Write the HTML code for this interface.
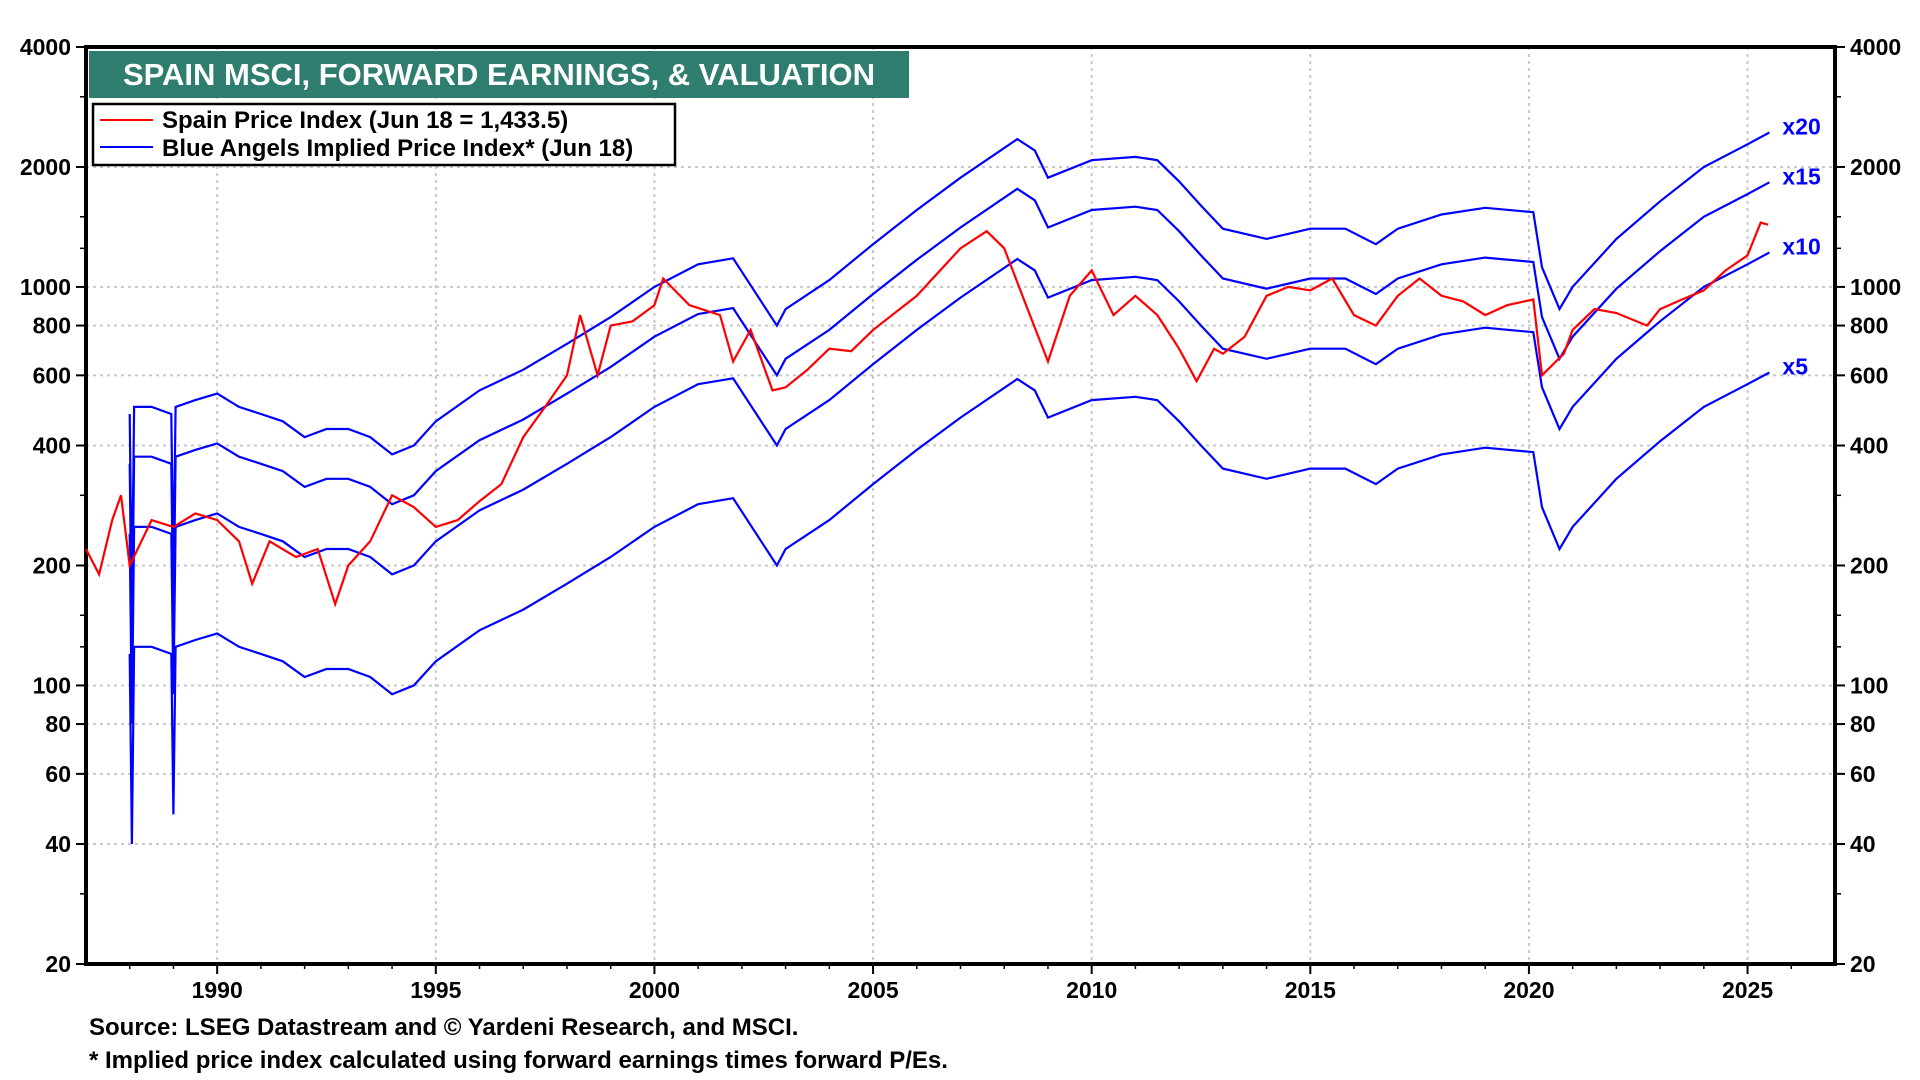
<!DOCTYPE html>
<html><head><meta charset="utf-8">
<style>
html,body{margin:0;padding:0;background:#fff;}
svg{display:block;font-family:"Liberation Sans",Arial,sans-serif;}
</style></head>
<body>
<svg id="chart" width="1920" height="1080" viewBox="0 0 1920 1080" xmlns="http://www.w3.org/2000/svg">
<rect width="1920" height="1080" fill="#fff"/>
<g id="grid"></g>
<g id="axes"></g>
<g id="series"></g>
<rect x="89" y="51" width="820" height="47" fill="#2e7d6f"/>
<text x="499" y="85" fill="#fff" font-size="31" font-weight="bold" text-anchor="middle">SPAIN MSCI, FORWARD EARNINGS, &amp; VALUATION</text>
<g>
<rect x="93" y="104" width="582" height="61" fill="#fff" stroke="#000" stroke-width="2.5"/>
<line x1="100" y1="120" x2="153" y2="120" stroke="#ff0000" stroke-width="2"/>
<text x="162" y="128" font-size="24" font-weight="bold">Spain Price Index (Jun 18 = 1,433.5)</text>
<line x1="100" y1="147" x2="153" y2="147" stroke="#0000ff" stroke-width="2"/>
<text x="162" y="156" font-size="24" font-weight="bold">Blue Angels Implied Price Index* (Jun 18)</text>
</g>
<text x="89" y="1035" font-size="24" font-weight="bold">Source: LSEG Datastream and © Yardeni Research, and MSCI.</text>
<text x="89" y="1068" font-size="24" font-weight="bold">* Implied price index calculated using forward earnings times forward P/Es.</text>
</svg>
<script>
const yearTicks = [1990,1995,2000,2005,2010,2015,2020,2025];
const yTickLabels = [4000,2000,1000,800,600,400,200,100,80,60,40,20];
const multiples = [5,10,15,20];
const multipleLabels = ["x5","x10","x15","x20"];
const priceDates = [1987.0,1987.3,1987.6,1987.8,1988.0,1988.5,1989.0,1989.5,1990.0,1990.5,1990.8,1991.2,1991.8,1992.3,1992.7,1993.0,1993.5,1994.0,1994.5,1995.0,1995.5,1996.0,1996.5,1997.0,1997.5,1998.0,1998.3,1998.7,1999.0,1999.5,2000.0,2000.2,2000.8,2001.5,2001.8,2002.2,2002.7,2003.0,2003.5,2004.0,2004.5,2005.0,2006.0,2007.0,2007.6,2008.0,2008.5,2009.0,2009.5,2010.0,2010.5,2011.0,2011.5,2012.0,2012.4,2012.8,2013.0,2013.5,2014.0,2014.5,2015.0,2015.5,2016.0,2016.5,2017.0,2017.5,2018.0,2018.5,2019.0,2019.5,2020.1,2020.3,2020.8,2021.0,2021.5,2022.0,2022.7,2023.0,2023.5,2024.0,2024.5,2025.0,2025.3,2025.47];
const priceValues = [220,190,260,300,200,260,250,270,260,230,180,230,210,220,160,200,230,300,280,250,260,290,320,420,500,600,850,600,800,820,900,1050,900,850,650,780,550,560,620,700,690,780,950,1250,1380,1250,900,650,950,1100,850,950,850,700,580,700,680,750,950,1000,980,1050,850,800,950,1050,950,920,850,900,930,600,680,780,880,860,800,880,930,980,1100,1200,1450,1433];
const earnDates = [1988.0,1988.05,1988.1,1988.5,1988.95,1989.0,1989.05,1989.5,1990.0,1990.5,1991.0,1991.5,1992.0,1992.5,1993.0,1993.5,1994.0,1994.5,1995.0,1996.0,1997.0,1998.0,1999.0,2000.0,2001.0,2001.8,2002.8,2003.0,2004.0,2005.0,2006.0,2007.0,2008.3,2008.7,2009.0,2010.0,2011.0,2011.5,2012.0,2012.5,2013.0,2014.0,2015.0,2015.8,2016.5,2017.0,2018.0,2019.0,2020.1,2020.3,2020.7,2021.0,2022.0,2023.0,2024.0,2025.0,2025.5];
const earnX10 = [240,80,250,250,240,95,250,260,270,250,240,230,210,220,220,210,190,200,230,275,310,360,420,500,570,590,400,440,520,640,780,940,1175,1100,940,1040,1060,1040,920,800,700,660,700,700,640,700,760,790,770,560,440,500,660,820,1000,1140,1220];

const X0=86,X1=1835,Y0=47,Y1=964,XMIN=1987,XMAX=2027;
const xS=t=>X0+(t-XMIN)/(XMAX-XMIN)*(X1-X0);
const yS=v=>Y0+(Math.log2(4000)-Math.log2(v))*((Y1-Y0)/Math.log2(200));
const NS="http://www.w3.org/2000/svg";
function mk(tag,attrs,parent){const e=document.createElementNS(NS,tag);for(const k in attrs)e.setAttribute(k,attrs[k]);parent.appendChild(e);return e;}
const grid=document.getElementById('grid'),axes=document.getElementById('axes'),series=document.getElementById('series');

yTickLabels.forEach(v=>{
  const y=yS(v);
  if(v!==4000&&v!==20){const g=mk('line',{x1:X0,x2:X1,y1:y,y2:y,stroke:'#c8c8c8','stroke-width':2,'stroke-dasharray':'3,4'},grid);
  
  }
  const l=mk('text',{x:X0-15,y:y+8,'font-size':23,'font-weight':'bold','text-anchor':'end'},axes);l.textContent=v;
  
  
  const r=mk('text',{x:X1+15,y:y+8,'font-size':23,'font-weight':'bold'},axes);r.textContent=v;
  
  
  mk('line',{x1:X0-10,x2:X0,y1:y,y2:y,stroke:'#000','stroke-width':2},axes);
  mk('line',{x1:X1,x2:X1+10,y1:y,y2:y,stroke:'#000','stroke-width':2},axes);
});
[3000,1500,1250,300,150,125,30].forEach(v=>{
  const y=yS(v);
  mk('line',{x1:X0-6,x2:X0,y1:y,y2:y,stroke:'#000','stroke-width':1.5},axes);
  mk('line',{x1:X1,x2:X1+6,y1:y,y2:y,stroke:'#000','stroke-width':1.5},axes);
});
yearTicks.forEach(t=>{
  const x=xS(t);
  const g=mk('line',{x1:x,x2:x,y1:Y0,y2:Y1,stroke:'#c8c8c8','stroke-width':2,'stroke-dasharray':'3,4'},grid);
  
  
  const l=mk('text',{x:x,y:Y1+34,'font-size':23,'font-weight':'bold','text-anchor':'middle'},axes);l.textContent=t;
  
  
  mk('line',{x1:x,x2:x,y1:Y1,y2:Y1+10,stroke:'#000','stroke-width':2},axes);
});
for(let t=1988;t<=2026;t++){const x=xS(t);mk('line',{x1:x,x2:x,y1:Y1,y2:Y1+5,stroke:'#000','stroke-width':1.5},axes);}
const frame=mk('rect',{x:X0,y:Y0,width:X1-X0,height:Y1-Y0,fill:'none',stroke:'#000','stroke-width':4},axes);



multiples.forEach((m,i)=>{
  let d='';
  earnDates.forEach((t,j)=>{d+=(j?'L':'M')+xS(t).toFixed(1)+','+yS(earnX10[j]*m/10).toFixed(1);});
  const p=mk('path',{d:d,fill:'none',stroke:'#0000ff','stroke-width':2.2},series);
  
  
  const last=earnX10.length-1;
  const lb=mk('text',{x:xS(earnDates[last])+13,y:yS(earnX10[last]*m/10)+2,fill:'#0000ff','font-size':23,'font-weight':'bold'},series);
  lb.textContent=multipleLabels[i];
  
  
});
let pd='';
priceDates.forEach((t,j)=>{pd+=(j?'L':'M')+xS(t).toFixed(1)+','+yS(priceValues[j]).toFixed(1);});
const pp=mk('path',{d:pd,fill:'none',stroke:'#ff0000','stroke-width':2.2},series);


</script>
</body></html>
